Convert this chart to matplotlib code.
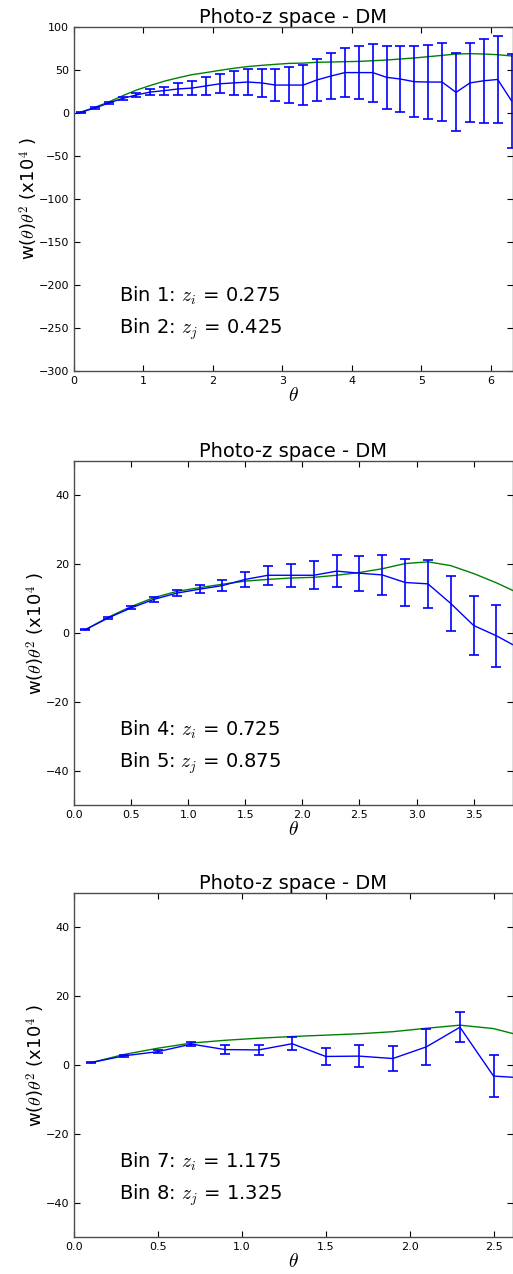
import numpy as np
import matplotlib
matplotlib.use("Agg")
import matplotlib.pyplot as plt

plt.rcParams['mathtext.fontset'] = 'cm'
plt.rcParams['font.family'] = 'DejaVu Sans'

# bins 1-2
theta_a = [0.1, 0.3, 0.5, 0.7, 0.9, 1.1, 1.3, 1.5, 1.7, 1.9, 2.1, 2.3, 2.5, 2.7, 2.9, 3.1,
           3.3, 3.5, 3.7, 3.9, 4.1, 4.3, 4.5, 4.7, 4.9, 5.1, 5.3, 5.5, 5.7, 5.9, 6.1, 6.3]
w_a = [1.0, 5.8, 11.6, 17.0, 21.0, 24.4, 26.0, 28.0, 29.0, 31.5, 34.0, 35.0, 36.0, 35.0, 32.5, 32.5,
       32.5, 38.5, 43.0, 47.0, 47.0, 47.0, 41.5, 39.5, 36.4, 36.0, 36.0, 24.0, 35.0, 37.5, 39.0, 14.0]
err_a = [0.5, 0.8, 1.2, 2.0, 2.5, 3.0, 4.8, 7.0, 8.5, 10.0, 11.3, 13.5, 15.0, 16.5, 19.0, 21.0,
         23.0, 24.7, 27.0, 28.3, 30.5, 33.8, 36.6, 38.8, 41.2, 43.5, 45.5, 45.5, 46.0, 48.6, 50.5, 54.5]
model_a = [1.0, 6.6, 12.8, 20.0, 26.7, 32.0, 37.0, 41.0, 44.6, 47.0, 49.6, 52.0, 54.0, 55.4, 56.6, 57.7,
           58.0, 59.0, 59.3, 59.7, 60.0, 60.8, 61.6, 62.8, 64.0, 65.5, 67.0, 68.6, 69.0, 68.6, 67.8, 66.3]

# bins 4-5
theta_b = [0.1, 0.3, 0.5, 0.7, 0.9, 1.1, 1.3, 1.5, 1.7, 1.9, 2.1, 2.3, 2.5, 2.7, 2.9, 3.1,
           3.3, 3.5, 3.7, 3.9]
w_b = [0.97, 4.4, 7.3, 9.8, 11.6, 12.75, 13.8, 15.6, 16.8, 16.8, 16.8, 18.0, 17.4, 16.9, 14.7, 14.3,
       8.6, 2.2, -0.8, -4.4]
err_b = [0.2, 0.3, 0.45, 0.8, 0.8, 1.1, 1.7, 2.2, 2.75, 3.4, 4.1, 4.6, 5.1, 5.9, 6.7, 7.05,
         8.0, 8.7, 9.1, 9.5]
model_b = [1.0, 4.6, 7.7, 10.3, 12.1, 13.2, 14.2, 15.1, 15.6, 16.0, 16.2, 16.8, 17.6, 18.7, 20.2, 20.7,
           19.6, 17.3, 14.6, 11.5]

# bins 7-8
theta_c = [0.1, 0.3, 0.5, 0.7, 0.9, 1.1, 1.3, 1.5, 1.7, 1.9, 2.1, 2.3, 2.5, 2.7]
w_c = [0.7, 2.7, 3.9, 6.1, 4.5, 4.4, 6.2, 2.5, 2.6, 1.9, 5.3, 11.0, -3.2, -3.8]
err_c = [0.1, 0.3, 0.5, 0.7, 1.25, 1.4, 1.9, 2.5, 3.25, 3.7, 5.2, 4.4, 6.2, 6.5]
model_c = [0.7, 3.1, 4.9, 6.4, 7.2, 7.8, 8.3, 8.7, 9.1, 9.7, 10.7, 11.6, 10.6, 8.1]

labels = [("Bin 1: $z_i$ = 0.275", "Bin 2: $z_j$ = 0.425"),
          ("Bin 4: $z_i$ = 0.725", "Bin 5: $z_j$ = 0.875"),
          ("Bin 7: $z_i$ = 1.175", "Bin 8: $z_j$ = 1.325")]

panels = [
    (theta_a, w_a, err_a, model_a, 6.32, (-300, 100), np.arange(-300, 101, 50), np.arange(0, 7, 1), '%d'),
    (theta_b, w_b, err_b, model_b, 3.845, (-50, 50), [-40, -20, 0, 20, 40], np.arange(0, 3.6, 0.5), '%.1f'),
    (theta_c, w_c, err_c, model_c, 2.616, (-50, 50), [-40, -20, 0, 20, 40], np.arange(0, 2.6, 0.5), '%.1f'),
]

fig = plt.figure(figsize=(5.13, 12.74), dpi=100)
bottoms = [0.7088, 0.3681, 0.0290]

for (th, w, err, model, xmax, ylim, yt, xt, fmt), (l1, l2), b in zip(panels, labels, bottoms):
    ax = fig.add_axes([0.1442, b, 0.8558, 0.27])
    ax.plot(th, model, color='g', lw=1.0)
    ax.errorbar(th, w, yerr=err, color='b', lw=1.0, elinewidth=1.2, capsize=3.5, capthick=1.2)
    ax.set_xlim(0, xmax)
    ax.set_ylim(*ylim)
    ax.set_yticks(yt)
    ax.set_xticks(xt)
    ax.set_xticklabels([fmt % v for v in xt])
    ax.tick_params(direction='in', top=True, right=True, labelsize=8, length=4, width=0.8)
    for s in ax.spines.values():
        s.set_color('0.3')
        s.set_linewidth(1.0)
    ax.set_title('Photo-z space - DM', fontsize=14, pad=3)
    ax.set_xlabel(r'$\theta$', fontsize=14, labelpad=0)
    ax.set_ylabel(r'w($\theta$)$\theta^2$ (x10$^4$ )', fontsize=13, labelpad=-1)
    ax.text(0.102, 0.218, l1, transform=ax.transAxes, fontsize=14, va='center', ha='left')
    ax.text(0.102, 0.122, l2, transform=ax.transAxes, fontsize=14, va='center', ha='left')

fig.savefig('out.png', dpi=100)
